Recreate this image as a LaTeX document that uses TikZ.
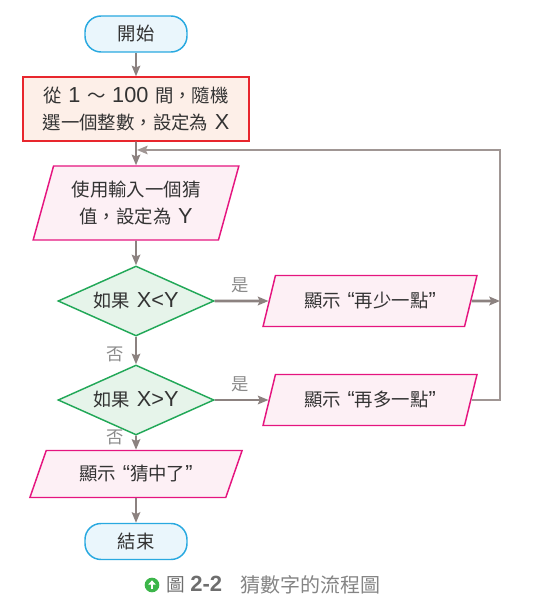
\documentclass[tikz,border=0pt]{standalone}
\usepackage{fontspec}
\setmainfont{Noto Sans CJK TC}
\newfontfamily\latfont[Scale=1.18]{Liberation Sans}
\newcommand{\latn}[1]{{\latfont #1}}
\newcommand{\gap}{\hspace{5pt}}
\usetikzlibrary{shapes.geometric,arrows.meta}
\definecolor{txt}{HTML}{333333}
\definecolor{lbl}{HTML}{8A8A8A}
\definecolor{termc}{HTML}{29A9E0}
\definecolor{termf}{HTML}{EAF6FC}
\definecolor{procc}{HTML}{E8262D}
\definecolor{procf}{HTML}{FDEFE8}
\definecolor{ioc}{HTML}{E5157F}
\definecolor{iof}{HTML}{FDF0F5}
\definecolor{decc}{HTML}{22A858}
\definecolor{decf}{HTML}{E6F4EA}
\definecolor{arrc}{HTML}{8C8280}
\definecolor{loopc}{HTML}{A09694}
\definecolor{capc}{HTML}{6E6E6E}
\definecolor{icong}{HTML}{3CB54A}
\begin{document}
\begin{tikzpicture}[x=0.75pt,y=-0.75pt,
  base/.style={font=\fontsize{13.8pt}{20pt}\selectfont, text=txt, line width=1.1pt, align=center, inner sep=0pt},
  term/.style={base, rectangle, rounded corners=12pt, draw=termc, fill=termf, minimum width=76.5pt, minimum height=27pt},
  proc/.style={base, rectangle, draw=procc, fill=procf, minimum width=169.5pt, minimum height=48pt},
  io/.style={base, trapezium, trapezium stretches=true, draw=ioc, fill=iof},
  dec/.style={base, diamond, aspect=2.2, draw=decc, fill=decf, minimum width=117pt, minimum height=52.5pt},
  arr/.style={draw=arrc, line width=1.3pt, -{Stealth[length=8pt,width=6.5pt,inset=1.5pt]}},
  thickarr/.style={arr, line width=2.2pt},
  lab/.style={font=\fontsize{13pt}{15pt}\selectfont, text=lbl, inner sep=0pt}
]
\useasboundingbox (0,0) rectangle (556,609);

\node[term] (start) at (136,34) {開始};
\node[proc] (init) at (136,109) {從\gap{}\latn{1}\gap{}～\gap{}\latn{100}\gap{}間，隨機\\選一個整數，設定為\gap{}\latn{X}};
\node[io, trapezium left angle=70, trapezium right angle=110, minimum width=154.5pt, minimum height=55.5pt] (input) at (136,203) {使用輸入一個猜\\值，設定為\gap{}\latn{Y}};
\node[dec] (lt) at (136,301) {如果\gap{}\latn{X<Y}};
\node[io, trapezium left angle=63, trapezium right angle=117, minimum width=160.5pt, minimum height=38.25pt] (less) at (370,301) {顯示\gap{}\latn{“}再少一點\latn{”}};
\node[dec] (gt) at (136,400) {如果\gap{}\latn{X>Y}};
\node[io, trapezium left angle=63, trapezium right angle=117, minimum width=160.5pt, minimum height=38.25pt] (more) at (370,400) {顯示\gap{}\latn{“}再多一點\latn{”}};
\node[io, trapezium left angle=59, trapezium right angle=121, minimum width=160.5pt, minimum height=35.25pt] (hit) at (136,474) {顯示\gap{}\latn{“}猜中了\latn{”}};
\node[term] (stop) at (136,541.5) {結束};

\coordinate (j1) at (500,301);
\coordinate (j2) at (500,400);
\coordinate (j3) at (500,150);
\coordinate (j4) at (137,150);

\draw[arr] (start) -- (init);
\draw[arr] (init) -- (input);
\draw[arr] (input) -- (lt);
\draw[arr] (lt) -- (gt);
\draw[arr] (gt) -- (hit);
\draw[arr] (hit) -- (stop);
\draw[thickarr] (lt.east) -- (less.west);
\draw[arr] (gt.east) -- (more.west);
\draw[thickarr] (less.east) -- (j1);
\draw[draw=loopc, line width=1.3pt, -{Stealth[length=8pt,width=6.5pt,inset=1.5pt]}] (more.east) -- (j2) -- (j3) -- (j4);

\node[lab] (yes1) at (240,285) {是};
\node[lab] (yes2) at (240,384) {是};
\node[lab] (no1) at (115,354) {否};
\node[lab] (no2) at (115,437) {否};

\node[circle, fill=icong, inner sep=0pt, minimum size=11pt] (icon) at (152,585) {};
\draw[white, line width=1.5pt, -{Triangle[length=3.2pt,width=5.5pt]}] ([yshift=-3.3pt]icon.center) -- ([yshift=3.5pt]icon.center);
\node[anchor=west, inner sep=0pt, text=capc, font=\fontsize{14pt}{16pt}\selectfont] (fig) at (166,585) {圖\hspace{4pt}{\latfont\bfseries 2-2}};
\node[anchor=west, inner sep=0pt, text=capc!85, font=\fontsize{15pt}{16pt}\selectfont] (cap) at (240,585) {猜數字的流程圖};
\end{tikzpicture}
\end{document}
